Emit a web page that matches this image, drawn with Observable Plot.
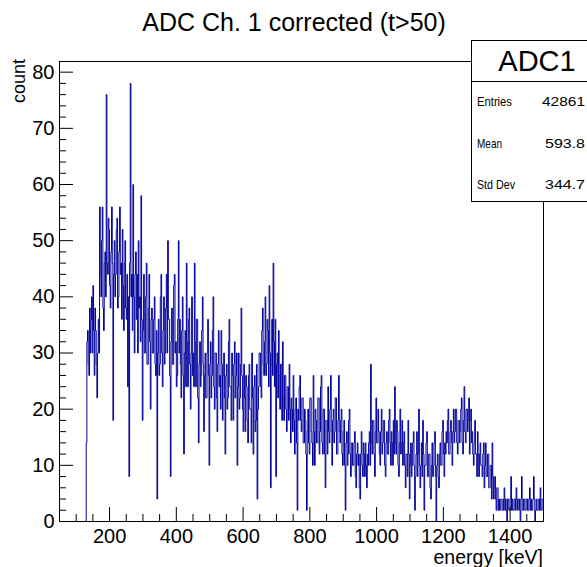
<!DOCTYPE html>
<html><head><meta charset="utf-8">
<script src="https://cdn.jsdelivr.net/npm/d3@7"></script>
<script src="https://cdn.jsdelivr.net/npm/@observablehq/plot@0.6"></script>
<style>html,body{margin:0;padding:0;background:#fff}</style>
</head><body><div id="chart"></div>
<script>
// ---- data ----
const binStart = 130;   // keV, left edge of first filled bin
const binWidth = 2;     // keV
const counts = [
  14,32,34,28,26,38,30,36,40,30,42,34,26,38,34,28,22,30,36,30,
  56,44,40,50,56,38,34,46,48,40,76,46,44,54,52,42,38,48,56,46,
  18,44,50,40,44,52,54,38,40,48,56,44,46,36,52,42,34,46,50,38,
  36,44,24,40,8,46,78,40,44,34,60,40,30,44,48,36,44,30,50,38,
  40,32,58,36,18,34,44,30,30,40,46,28,28,38,44,32,20,36,38,30,
  30,36,40,28,26,34,4,30,36,26,28,40,44,30,24,34,40,28,30,38,
  44,30,50,36,36,26,8,32,38,28,28,42,44,30,32,24,26,36,50,30,
  36,28,22,34,40,26,12,30,34,24,46,32,24,36,38,28,20,30,40,26,
  30,24,46,32,24,36,36,22,14,28,32,24,26,34,40,28,16,26,30,22,
  22,30,36,26,10,28,32,22,26,34,40,24,20,30,30,22,16,28,34,24,
  26,20,34,28,18,26,30,22,12,26,28,20,22,32,36,24,24,18,30,26,
  18,28,32,22,26,30,10,24,30,20,22,28,38,26,20,16,28,22,16,26,
  24,18,14,26,28,20,20,14,30,22,12,24,26,16,18,28,4,20,24,30,
  30,24,22,34,38,28,26,32,40,26,28,36,34,24,42,30,6,28,36,26,
  46,32,24,36,8,28,30,22,34,26,20,28,28,18,32,22,18,26,26,20,
  16,24,24,18,28,20,14,22,20,16,26,18,12,20,22,14,2,20,18,24,
  26,18,16,22,22,14,14,20,18,12,2,16,20,14,12,22,22,16,14,10,
  26,16,10,20,18,14,14,22,22,12,16,24,26,14,12,20,20,12,6,18,
  18,12,24,16,14,20,26,16,10,18,20,14,16,22,22,12,12,18,26,16,
  14,18,20,12,10,16,18,10,2,14,16,10,12,18,20,12,8,14,14,10,
  10,14,16,8,6,12,14,10,12,6,4,12,16,10,8,14,12,8,14,10,
  6,12,10,14,16,10,28,14,12,18,18,12,8,16,22,14,14,20,16,12,
  10,16,20,12,14,18,18,10,8,14,16,12,12,18,20,14,10,16,14,10,
  18,12,24,14,12,18,16,10,8,14,20,12,14,18,10,14,16,10,6,12,
  12,8,18,12,4,10,14,8,10,14,16,10,2,8,12,16,8,12,20,10,
  6,10,14,8,18,12,2,10,10,14,16,8,8,12,12,6,4,10,14,8,
  10,14,16,8,0,10,12,8,6,12,14,10,10,16,18,12,8,14,12,16,
  14,18,20,12,12,16,18,14,10,16,20,14,16,20,20,14,12,18,18,14,
  16,20,22,14,12,18,24,16,14,20,20,16,18,22,12,18,20,14,16,12,
  10,14,18,12,12,8,16,12,8,12,14,10,10,8,12,14,6,10,14,8,
  8,12,12,6,6,10,10,4,14,8,4,6,8,4,2,6,6,2,4,2,
  2,4,4,2,2,4,6,2,4,2,0,4,4,2,2,4,8,2,4,2,
  2,4,4,2,6,4,2,4,4,2,0,4,8,2,2,4,4,2,2,4,
  4,2,2,4,6,2,4,2,2,4,8,4,0,2,4,2,2,4,4,2,
  6,2,2,4,4
];
const xMajor = [200,400,600,800,1000,1200,1400];
const xMinor = [100,150,250,300,350,450,500,550,650,700,750,850,900,950,1050,1100,1150,1250,1300,1350,1450];
const yMajor = [0,10,20,30,40,50,60,70,80];
const yMinor = [2,4,6,8,12,14,16,18,22,24,26,28,32,34,36,38,42,44,46,48,52,54,56,58,62,64,66,68,72,74,76,78];
const titleText = "ADC Ch. 1 corrected (t>50)";
const xLabel = "energy [keV]";
const yLabel = "count";
const statsName = "ADC1";
const statsLabels = ["Entries", "Mean", "Std Dev"];
const statsValues = ["42861", "593.8", "344.7"];

// ---- layout ----
const W = 587, H = 567, ml = 59, mr = 44, mt = 61, mb = 46;
const xDomain = [50, 1500], yDomain = [0, 81.9];
const fw = W - ml - mr, fh = H - mt - mb;
const kx = (xDomain[1] - xDomain[0]) / fw;  // keV per px
const ky = (yDomain[1] - yDomain[0]) / fh;  // count per px
const majLen = 14, minLen = 7;
const FONT = "'Liberation Sans', Arial, Helvetica, sans-serif";

const steps = [{x: binStart, y: 0}];
counts.forEach((c, i) => steps.push({x: binStart + i * binWidth, y: c}));
steps.push({x: binStart + counts.length * binWidth, y: counts[counts.length - 1]});

const plot = Plot.plot({
  width: W, height: H,
  marginLeft: ml, marginRight: mr, marginTop: mt, marginBottom: mb,
  x: {domain: xDomain},
  y: {domain: yDomain},
  style: {fontFamily: FONT, fontSize: "20px", color: "black", background: "white", overflow: "visible"},
  marks: [
    Plot.line(steps, {x: "x", y: "y", curve: "step-after", stroke: "#000099", strokeWidth: 1, clip: true}),
    Plot.ruleX(xMajor, {x: d => d, y1: yDomain[0], y2: yDomain[0] + majLen * ky, stroke: "black"}),
    Plot.ruleX(xMinor, {x: d => d, y1: yDomain[0], y2: yDomain[0] + minLen * ky, stroke: "black"}),
    Plot.ruleY(yMajor, {y: d => d, x1: xDomain[0], x2: xDomain[0] + majLen * kx, stroke: "black"}),
    Plot.ruleY(yMinor, {y: d => d, x1: xDomain[0], x2: xDomain[0] + minLen * kx, stroke: "black"}),
    Plot.frame({stroke: "black"}),
    Plot.axisX(xMajor, {tickSize: 0, tickPadding: 7, label: null, fontSize: 20, tickFormat: d => String(d)}),
    Plot.axisY(yMajor, {tickSize: 0, tickPadding: 5, label: null, fontSize: 20, tickFormat: d => String(d)})
  ]
});
document.getElementById("chart").appendChild(plot);

const svg = d3.select(plot);
svg.append("text").attr("x", 294).attr("y", 31).attr("text-anchor", "middle")
  .attr("font-family", FONT).attr("font-size", 25).attr("fill", "black").text(titleText);
svg.append("text").attr("x", W - mr).attr("y", 564).attr("text-anchor", "end")
  .attr("font-family", FONT).attr("font-size", 19.5).attr("fill", "black").text(xLabel);
svg.append("text").attr("transform", `translate(25,${mt - 2}) rotate(-90)`).attr("text-anchor", "end")
  .attr("font-family", FONT).attr("font-size", 18).attr("fill", "black").text(yLabel);

// stats box
const sb = svg.append("g");
sb.append("rect").attr("x", 471.5).attr("y", 40.5).attr("width", 130).attr("height", 161)
  .attr("fill", "white").attr("stroke", "black");
sb.append("line").attr("x1", 471.5).attr("x2", 600).attr("y1", 81.5).attr("y2", 81.5).attr("stroke", "black");
sb.append("text").attr("x", 537).attr("y", 71).attr("text-anchor", "middle")
  .attr("font-family", FONT).attr("font-size", 29).attr("fill", "black").text(statsName);
const rowY = [106, 148, 189];
const labelW = [35, 25, 38], valueW = [43, 40, 40];
statsLabels.forEach((lab, i) => {
  sb.append("text").attr("x", 477).attr("y", rowY[i]).attr("text-anchor", "start")
    .attr("font-family", FONT).attr("font-size", 13).attr("fill", "black")
    .attr("textLength", labelW[i]).attr("lengthAdjust", "spacingAndGlyphs").text(lab);
  sb.append("text").attr("x", 585 - valueW[i]).attr("y", rowY[i]).attr("text-anchor", "start")
    .attr("font-family", FONT).attr("font-size", 13).attr("fill", "black")
    .attr("textLength", valueW[i]).attr("lengthAdjust", "spacingAndGlyphs").text(statsValues[i]);
});
</script></body></html>
